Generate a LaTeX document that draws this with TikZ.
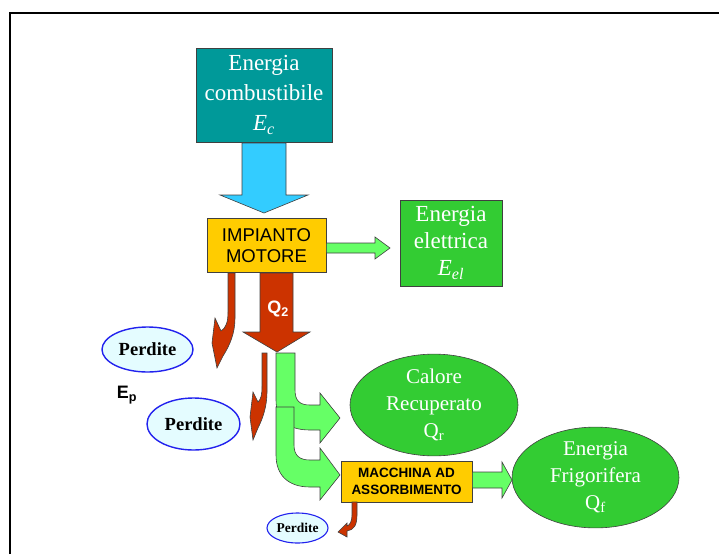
\documentclass[tikz,border=0pt]{standalone}
\usepackage{fontspec}
\setmainfont{Liberation Serif}
\newfontfamily\arialf{Liberation Sans}
\usetikzlibrary{shapes.geometric}
\definecolor{tealc}{HTML}{009999}
\definecolor{cyanc}{HTML}{33CCFF}
\definecolor{yellc}{HTML}{FFCC00}
\definecolor{greenc}{HTML}{33CC33}
\definecolor{lgreen}{HTML}{66FF66}
\definecolor{redc}{HTML}{CC3300}
\definecolor{perfill}{HTML}{E4FCFF}
\definecolor{perline}{HTML}{2222EE}
\definecolor{edgec}{HTML}{404040}
\tikzset{
  box/.style={draw=edgec, line width=0.6pt, inner sep=0pt, align=center},
  tealbox/.style={box, fill=tealc, text=white, minimum width=136pt, minimum height=94pt, font=\fontsize{23}{30}\selectfont},
  yellbox/.style={box, fill=yellc, text=black},
  greenbox/.style={box, fill=greenc, text=white},
  greenell/.style={box, ellipse, fill=greenc, text=white, font=\fontsize{21}{27}\selectfont},
  perdite/.style={ellipse, draw=perline, line width=1.4pt, fill=perfill, inner sep=0pt, font=\bfseries},
  blockarrow/.style={draw=edgec, line width=0.6pt, line join=miter},
  cyanarrow/.style={blockarrow, fill=cyanc},
  greenarrow/.style={blockarrow, fill=lgreen},
  redarrow/.style={blockarrow, fill=redc},
}
\begin{document}
\begin{tikzpicture}[x=1pt,y=-1pt]
\useasboundingbox (0,0) rectangle (719,554);
\draw[line width=2pt] (9.5,554) -- (9.5,12.5) -- (719,12.5);

% nodes
\node[tealbox] (ec) at (264,95) {Energia\\combustibile\\\textit{E}\textsubscript{\textit{c}}};
\node[yellbox, minimum width=119pt, minimum height=54pt, font=\arialf\fontsize{18.5}{21}\selectfont] (im) at (266.5,245.5) {IMPIANTO\\MOTORE};
\node[greenbox, minimum width=102pt, minimum height=86pt, font=\fontsize{23}{27}\selectfont] (el) at (451,243) {Energia\\elettrica\\\textit{E}\textsubscript{\textit{el}}};
\node[greenell, minimum width=168pt, minimum height=84pt] (qr) at (434,405) {Calore\\Recuperato\\Q\textsubscript{r}};
\node[yellbox, minimum width=131pt, minimum height=41pt, font=\arialf\bfseries\fontsize{13.5}{17}\selectfont] (ma) at (406.5,481.5) {MACCHINA AD\\ASSORBIMENTO};
\node[greenell, minimum width=167pt, minimum height=85pt] (qf) at (595.5,477.5) {Energia\\Frigorifera\\Q\textsubscript{f}};
\node[perdite, minimum width=91pt, minimum height=45pt, font=\bfseries\fontsize{18.5}{20}\selectfont] (p1) at (147.5,349.5) {Perdite};
\node[perdite, minimum width=93pt, minimum height=52pt, font=\bfseries\fontsize{18.5}{20}\selectfont] (p2) at (193.5,424) {Perdite};
\node[perdite, minimum width=61pt, minimum height=30pt, line width=1.1pt, font=\bfseries\fontsize{13.5}{15}\selectfont] (p3) at (297.5,528) {Perdite};
\node[font=\arialf\bfseries\fontsize{18}{20}\selectfont] (ep) at (127,395) {E\textsubscript{p}};

% cyan arrow fuel -> motor
\draw[cyanarrow] (242,143) -- (286,143) -- (286,195) -- (308,195) -- (264,213) -- (220,195) -- (242,195) -- cycle;

% green arrow motor -> electric
\draw[greenarrow] (im.east |- 0,243) -- (375,243) -- (375,237) -- (390,248) -- (375,259) -- (375,253) -- (im.east |- 0,253) -- cycle;

% big red Q2 arrow
\draw[redarrow] (260,273) -- (293,273) -- (293,332) -- (310,332) -- (277,352) -- (243,332) -- (260,332) -- cycle;
\node[text=white, font=\arialf\bfseries\fontsize{18}{20}\selectfont] (q2) at (278,309) {Q\textsubscript{2}};

% red loss arrows (J shapes)
\draw[redarrow] (228,273) -- (235,273) -- (235,318) .. controls (235,333) and (230,345) .. (223,356) -- (217,368) -- (212,343) -- (215,318) -- (221,331) .. controls (226,328) and (228,322) .. (228,312) -- cycle;
\draw[redarrow] (262,353) -- (267,353) -- (267,392) .. controls (267,406) and (263,418) .. (258,428) -- (253,440) -- (250,417) -- (253,392) -- (258,402) .. controls (261,399) and (262,395) .. (262,386) -- cycle;
\draw[redarrow] (352,502) -- (357,502) -- (357,515) .. controls (357,525) and (354,530) .. (347,531) -- (347,537) -- (338,532) -- (347,523) -- (347,526) .. controls (350,525) and (352,521) .. (352,515) -- cycle;

% green pipes
\draw[greenarrow] (276,353) -- (295,353) -- (295,390) .. controls (295,401) and (300,405) .. (310,405) -- (320,405) -- (320,393) -- (340,418) -- (320,443) -- (320,430) -- (310,430) .. controls (288,430) and (276,420) .. (276,400) -- cycle;
\draw[greenarrow] (276,407) -- (294,407) -- (294,445) .. controls (294,456) and (300,460) .. (310,460) -- (320,460) -- (320,448) -- (340,475) -- (320,500) -- (320,487) -- (310,487) .. controls (288,487) and (276,475) .. (276,455) -- cycle;

% green arrow machine -> frigo
\draw[greenarrow] (ma.east |- 0,472) -- (502,472) -- (502,462) -- (512,480) -- (502,498) -- (502,488) -- (ma.east |- 0,488) -- cycle;
\end{tikzpicture}
\end{document}
